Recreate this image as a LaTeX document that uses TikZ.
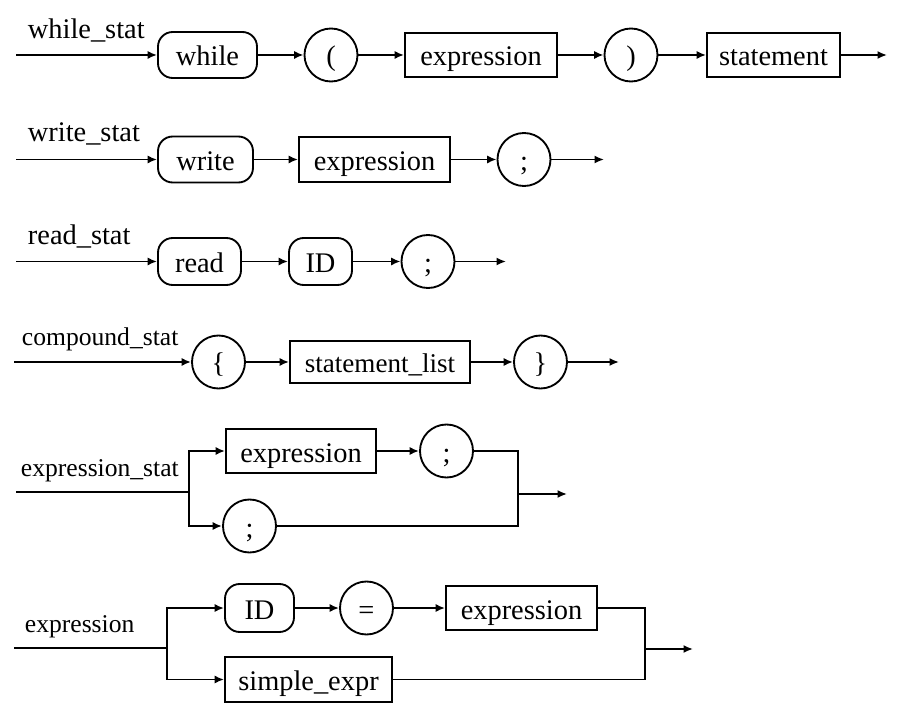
\documentclass[tikz,border=0pt]{standalone}
\usepackage{fontspec}
\setmainfont{Liberation Serif}
\usetikzlibrary{arrows.meta}
\begin{document}
\begin{tikzpicture}
		[x=0.75pt,y=-0.75pt,line width=1.4pt,
		>={Latex[length=7pt,width=6pt]},
		term/.style={rectangle,rounded corners=11pt,draw=black,inner sep=0,minimum height=34.5pt,text height=18pt,text depth=1.5pt,font=\fontsize{21.3}{25}\selectfont},
		nonterm/.style={rectangle,draw=black,inner sep=0,minimum height=33.5pt,text height=18pt,text depth=1.5pt,font=\fontsize{21.3}{25}\selectfont},
		sym/.style={circle,draw=black,inner sep=0,minimum size=39.75pt,text height=18pt,text depth=1.5pt,font=\fontsize{21.3}{25}\selectfont},
		plain/.style={draw=none,fill=none,inner sep=0,anchor=base west,font=\fontsize{21.3}{25}\selectfont},
		small/.style={font=\fontsize{19.2}{23}\selectfont}
		]
		\useasboundingbox (0,0) rectangle (914,716);

		% while_stat
		\node[plain] (lwhile) at (27,39){while\_stat};
		\coordinate (in1) at (16,55);
		\node[term,minimum width=74.25pt] (while) at (207.5,55){while};
		\node[sym] (lp) at (331,55){(};
		\node[nonterm,minimum width=114pt] (expr1) at (481,55){expression};
		\node[sym] (rp) at (631,55){)};
		\node[nonterm,minimum width=99.75pt] (stmt) at (773.5,55){statement};
		\coordinate (out1) at (887,55);
		\draw[->] (in1) -- (while);
		\draw[->] (while) -- (lp);
		\draw[->] (lp) -- (expr1);
		\draw[->] (expr1) -- (rp);
		\draw[->] (rp) -- (stmt);
		\draw[->] (stmt) -- (out1);

		% write_stat
		\node[plain] (lwrite) at (27,142){write\_stat};
		\coordinate (in2) at (16,159.5);
		\node[term,minimum width=71.25pt] (write) at (205.5,159.5){write};
		\node[nonterm,minimum width=113.25pt] (expr2) at (374.5,159.5){expression};
		\node[sym] (semi2) at (524,159.5){;};
		\coordinate (out2) at (604,159.5);
		\draw[->] (in2) -- (write);
		\draw[->] (write) -- (expr2);
		\draw[->] (expr2) -- (semi2);
		\draw[->] (semi2) -- (out2);

		% read_stat
		\node[plain] (lread) at (27,245){read\_stat};
		\coordinate (in3) at (16,261.5);
		\node[term,minimum width=62.25pt,minimum height=35.25pt] (read) at (199.5,261.5){read};
		\node[term,minimum width=47.25pt,minimum height=35.25pt] (id3) at (320.5,261.5){ID};
		\node[sym] (semi3) at (428,261.5){;};
		\coordinate (out3) at (506,261.5);
		\draw[->] (in3) -- (read);
		\draw[->] (read) -- (id3);
		\draw[->] (id3) -- (semi3);
		\draw[->] (semi3) -- (out3);

		% compound_stat
		\node[plain,small] (lcomp) at (21,346){compound\_stat};
		\coordinate (in4) at (14,362);
		\node[sym] (lbr) at (218.5,362){\{};
		\node[nonterm,minimum width=135pt,minimum height=31.5pt,font=\fontsize{20.3}{24}\selectfont] (slist) at (380,362){statement\_list};
		\node[sym] (rbr) at (540.5,362){\}};
		\coordinate (out4) at (619,362);
		\draw[->] (in4) -- (lbr);
		\draw[->] (lbr) -- (slist);
		\draw[->] (slist) -- (rbr);
		\draw[->] (rbr) -- (out4);

		% expression_stat
		\node[plain,small] (lexst) at (20,476){expression\_stat};
		\coordinate (in5) at (16,492);
		\coordinate (split5) at (189,492);
		\node[nonterm,minimum width=112.5pt] (expr5) at (301,451){expression};
		\node[sym] (semi5a) at (446.5,451){;};
		\node[sym] (semi5b) at (249.5,526){;};
		\coordinate (join5) at (518,494);
		\coordinate (out5) at (567,494);
		\draw (in5) -- (split5);
		\draw[->] (split5) |- (expr5);
		\draw[->] (split5) |- (semi5b);
		\draw[->] (expr5) -- (semi5a);
		\draw (semi5a) -| (join5);
		\draw (semi5b) -| (join5);
		\draw[->] (join5) -- (out5);

		% expression
		\node[plain,small] (lexpr) at (24,632){expression};
		\coordinate (in6) at (14,648);
		\coordinate (split6) at (167,648);
		\node[term,minimum width=51.75pt,minimum height=36pt] (id6) at (259.5,608){ID};
		\node[sym] (eq) at (366.5,608){=};
		\node[nonterm,minimum width=113.25pt] (expr6) at (521.5,608){expression};
		\node[nonterm,minimum width=125.25pt] (simple) at (308.5,679.5){simple\_expr};
		\coordinate (join6) at (645,649);
		\coordinate (out6) at (693,649);
		\draw (in6) -- (split6);
		\draw[->] (split6) |- (id6);
		\draw[->] (split6) |- (simple);
		\draw[->] (id6) -- (eq);
		\draw[->] (eq) -- (expr6);
		\draw (expr6) -| (join6);
		\draw (simple) -| (join6);
		\draw[->,line width=1.9pt] (join6) -- (out6);
	\end{tikzpicture}
\end{document}
